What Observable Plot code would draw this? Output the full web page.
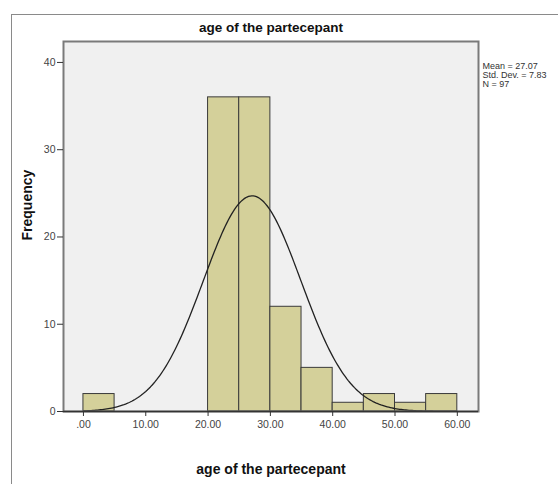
<!DOCTYPE html>
<html>
<head>
<meta charset="utf-8">
<script src="https://cdn.jsdelivr.net/npm/d3@7"></script>
<script src="https://cdn.jsdelivr.net/npm/@observablehq/plot@0.6"></script>
<style>
  body { margin: 0; background: #fff; font-family: "Liberation Sans", Arial, sans-serif; }
  #wrap { position: relative; width: 558px; height: 484px; overflow: hidden; }
  #border { position: absolute; left: 11px; top: 14px; width: 600px; height: 600px; border: 1px solid #8a8a8a; pointer-events: none; }
</style>
</head>
<body>
<div id="wrap"><div id="border"></div></div>
<script>
const binStart = [0, 5, 10, 15, 20, 25, 30, 35, 40, 45, 50, 55];
const binEnd   = [5, 10, 15, 20, 25, 30, 35, 40, 45, 50, 55, 60];
const counts   = [2, 0, 0, 0, 36, 36, 12, 5, 1, 2, 1, 2];
const mean = 27.07, sd = 7.83, n = 97, binWidth = 5;
const xTicks = [0, 10, 20, 30, 40, 50, 60];
const yTicks = [0, 10, 20, 30, 40];
const title = "age of the partecepant";
const xLabel = "age of the partecepant";
const yLabel = "Frequency";
const stats = ["Mean = 27.07", "Std. Dev. = 7.83", "N = 97"];

const bins = binStart.map((s, i) => ({x1: s, x2: binEnd[i], y: counts[i]})).filter(d => d.y > 0);
const curve = d3.range(0, 60.01, 0.25).map(x => ({
  x, y: n * binWidth * Math.exp(-0.5 * ((x - mean) / sd) ** 2) / (sd * Math.sqrt(2 * Math.PI))
}));

const chart = Plot.plot({
  width: 558,
  height: 484,
  marginLeft: 63,
  marginRight: 80,
  marginTop: 41,
  marginBottom: 73,
  style: {fontFamily: "'Liberation Sans', Arial, sans-serif", fontSize: "10px", color: "#333", background: "transparent", overflow: "visible"},
  x: {domain: [-3.2, 63.4], ticks: xTicks, tickFormat: d => d === 0 ? ".00" : d.toFixed(2), label: null},
  y: {domain: [0, 42.4], ticks: yTicks, label: null},
  marks: [
    Plot.frame({fill: "#f0f0f0", stroke: "none"}),
    Plot.rectY(bins, {x1: "x1", x2: "x2", y: "y", fill: "#d4d09a", stroke: "#3a3a3a", strokeWidth: 1}),
    Plot.line(curve, {x: "x", y: "y", stroke: "#222", strokeWidth: 1.3}),
    Plot.frame({stroke: "#7a7a7a", strokeWidth: 2}),
    Plot.ruleY([0], {stroke: "#333", strokeWidth: 1.5}),
    Plot.axisX({ticks: xTicks, tickFormat: d => d === 0 ? ".00" : d.toFixed(2), tickSize: 5, tickPadding: 4, stroke: "#333", fill: "#444", fontSize: 10.5}),
    Plot.axisY({ticks: yTicks, tickSize: 6, tickPadding: 2, stroke: "#333", fill: "#444", fontSize: 10.5}),
    Plot.text([title], {frameAnchor: "top", lineAnchor: "middle", dy: -14, fontSize: 13.5, fill: "#111", fontWeight: "bold"}),
    Plot.text([xLabel], {frameAnchor: "bottom", lineAnchor: "middle", dy: 58, fontSize: 14, fontWeight: "bold", fill: "#111"}),
    Plot.text([yLabel], {frameAnchor: "left", rotate: -90, dx: -36, dy: 14, fontSize: 14, fontWeight: "bold", fill: "#111"}),
    Plot.text([stats.join("\n")], {frameAnchor: "top-right", lineAnchor: "top", textAnchor: "start", dx: 4, dy: 21, lineHeight: 1.0, fontSize: 9, fill: "#333"})
  ]
});
document.getElementById("wrap").prepend(chart);
</script>
</body>
</html>
